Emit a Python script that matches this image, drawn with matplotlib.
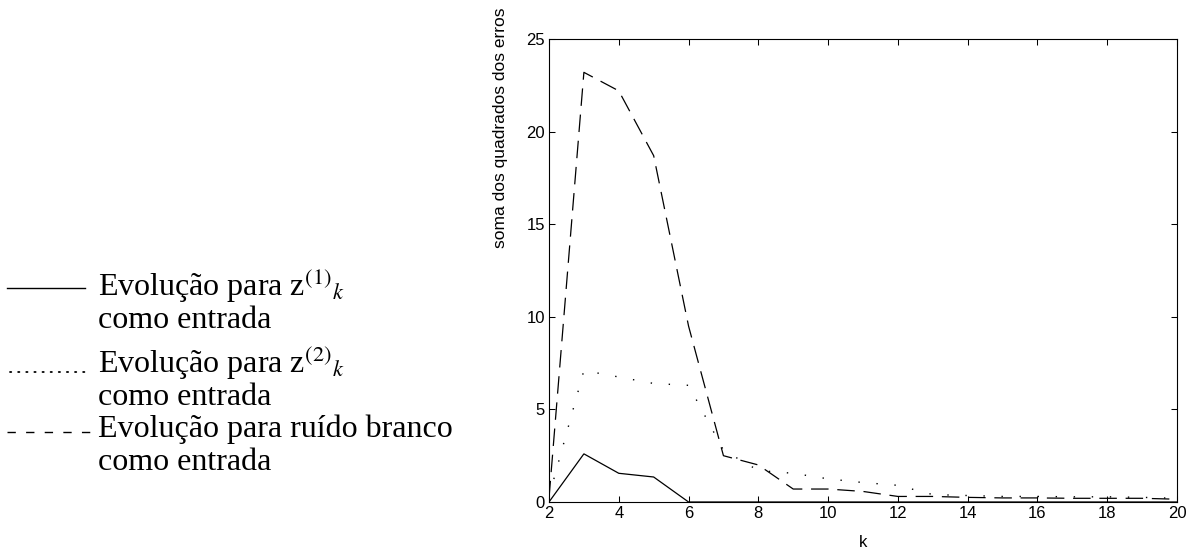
import matplotlib
matplotlib.use("Agg")
import matplotlib.pyplot as plt
from matplotlib.lines import Line2D

# ---- data ----
k = [2, 3, 4, 5, 6, 7, 8, 9, 10, 11, 12, 13, 14, 15, 16, 17, 18, 19, 20]
z1_err = [0.0, 2.6, 1.55, 1.35, 0.0, 0.0, 0.0, 0.0, 0.0, 0.0, 0.0, 0.0, 0.0, 0.0, 0.0, 0.0, 0.0, 0.0, 0.0]
z2_err = [0.3, 7.1, 6.75, 6.4, 6.3, 2.8, 1.7, 1.55, 1.25, 1.05, 0.9, 0.4, 0.35, 0.3, 0.3, 0.28, 0.28, 0.25, 0.2]
wn_err = [0.2, 23.2, 22.2, 18.7, 9.5, 2.5, 2.0, 0.7, 0.7, 0.57, 0.3, 0.3, 0.25, 0.22, 0.22, 0.2, 0.2, 0.2, 0.15]
xticks = [2, 4, 6, 8, 10, 12, 14, 16, 18, 20]
yticks = [0, 5, 10, 15, 20, 25]
legend_lines = ["Evolução para z$^{\\mathrm{(1)}}{}_{k}$", "como entrada",
                "Evolução para z$^{\\mathrm{(2)}}{}_{k}$", "como entrada",
                "Evolução para ruído branco", "como entrada"]

W, H = 1199, 554
plt.rcParams['font.family'] = ['Liberation Sans', 'DejaVu Sans']
plt.rcParams['mathtext.fontset'] = 'stix'

fig = plt.figure(figsize=(W / 100, H / 100), dpi=100)
fig.patch.set_facecolor('white')

def fx(x):
    return x / W

def fy(y):
    return 1 - y / H

ax = fig.add_axes([fx(549), fy(502), fx(1177) - fx(549), fy(39) - fy(502)])
ax.plot(k, z1_err, color='black', lw=0.9, solid_joinstyle='miter')
ax.plot(k, z2_err, color='black', lw=1.0, linestyle=(0, (1, 12)))
ax.plot(k, wn_err, color='black', lw=0.9, linestyle=(0, (14, 7)))

ax.set_xlim(2, 20)
ax.set_ylim(0, 25)
ax.set_xticks(xticks)
ax.set_yticks(yticks)
ax.tick_params(direction='in', length=4.5, width=0.75, labelsize=12, pad=3,
               top=True, right=True, colors='black')
for s in ax.spines.values():
    s.set_linewidth(0.8)
    s.set_color('black')

ax.set_xlabel('k', fontsize=12, labelpad=10)
fig.text(fx(500), fy(128), 'soma dos quadrados dos erros', rotation=90,
         ha='center', va='center', fontsize=12.5)

# ---- legend drawn as text on the left ----
serif = ['Liberation Serif', 'DejaVu Serif']
baselines = [296, 328, 373, 405, 437, 470]
for txt, yb in zip(legend_lines, baselines):
    fig.text(fx(98), fy(yb), txt, family=serif, fontsize=23,
             ha='left', va='baseline')

fig.add_artist(Line2D([fx(7), fx(85)], [fy(288), fy(288)], color='black', lw=1.0,
                      transform=fig.transFigure))
fig.add_artist(Line2D([fx(10), fx(90)], [fy(372), fy(372)], color='black', lw=1.3,
                      linestyle=(0, (0.7, 3.8)), dash_capstyle='round',
                      transform=fig.transFigure))
fig.add_artist(Line2D([fx(7), fx(93)], [fy(432), fy(432)], color='black', lw=1.0,
                      linestyle=(0, (6, 7.4)), transform=fig.transFigure))

fig.savefig('out.png', dpi=100, facecolor='white')
